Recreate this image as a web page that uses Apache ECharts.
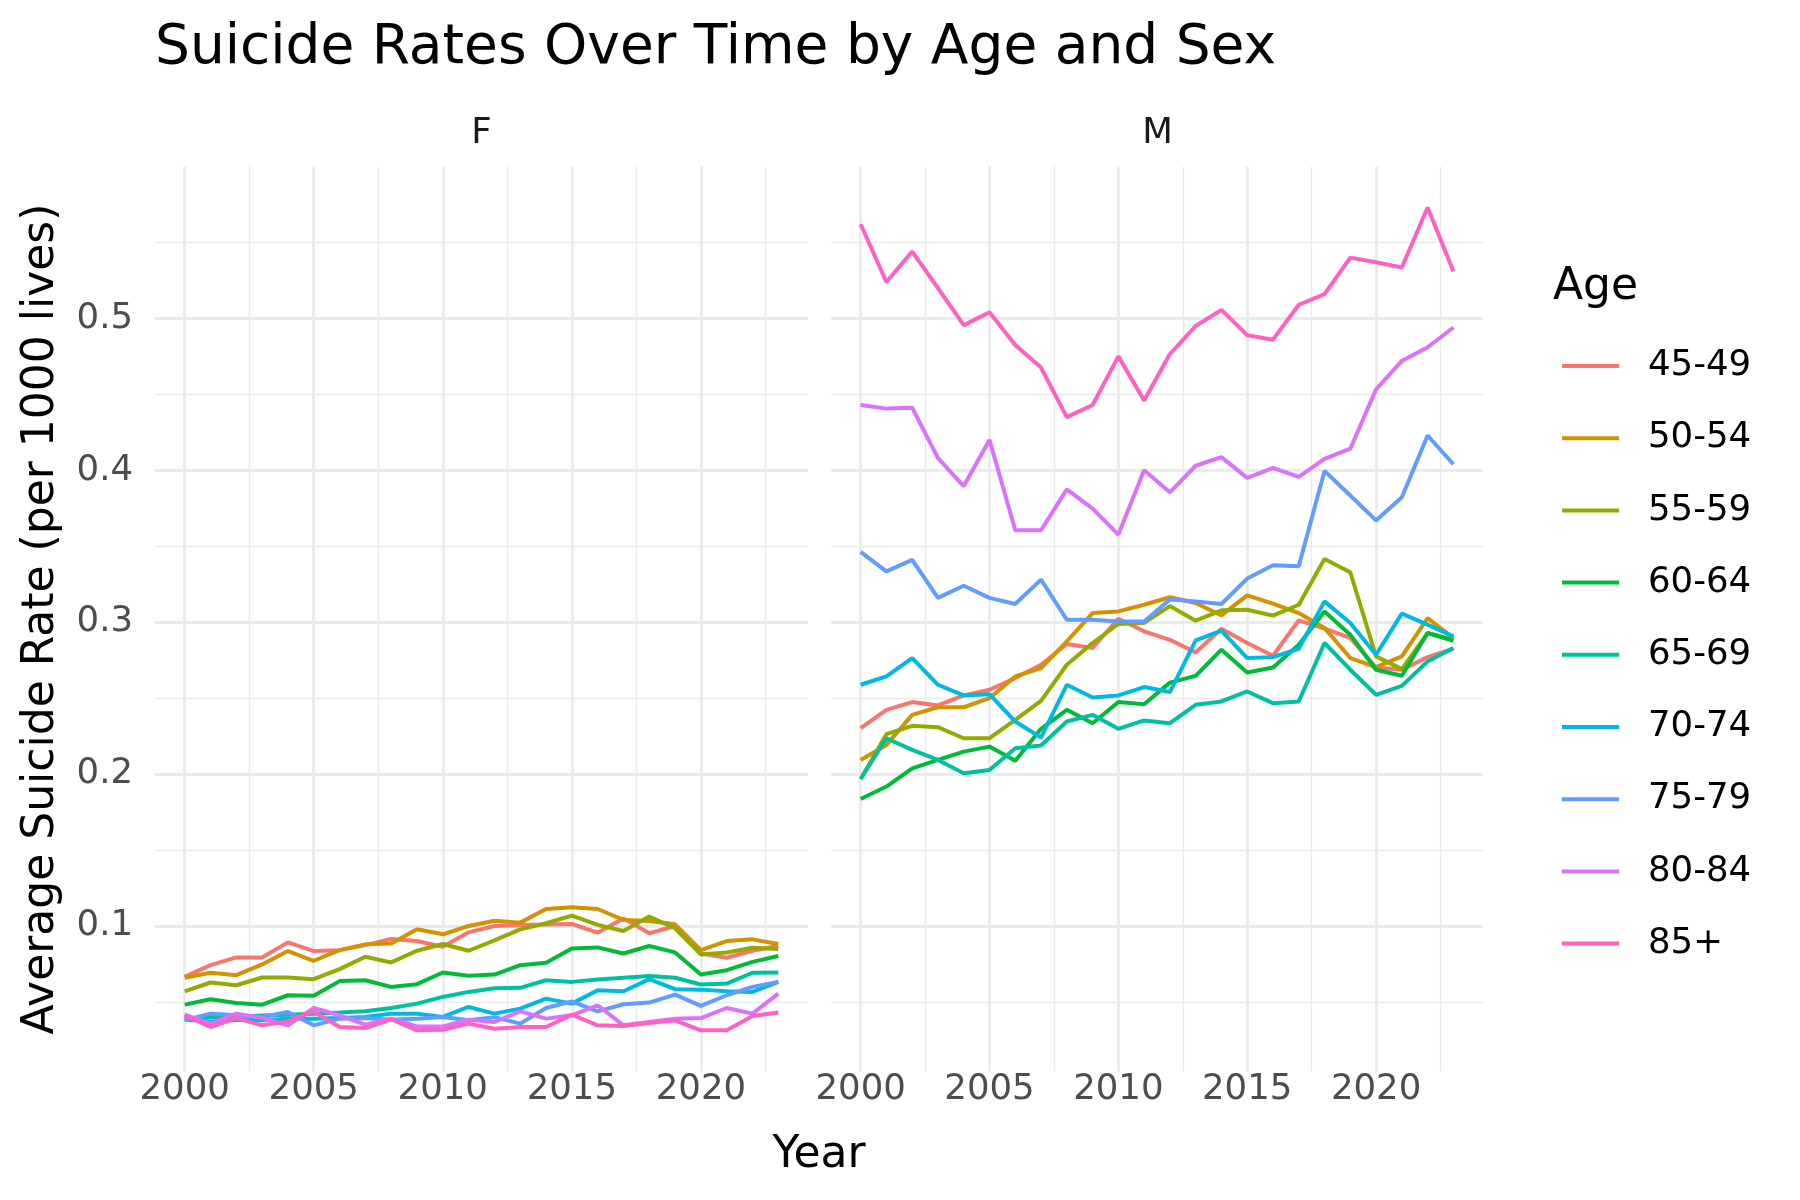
<!DOCTYPE html>
<html><head><meta charset="utf-8">
<script src="https://cdn.jsdelivr.net/npm/echarts@6/dist/echarts.min.js"></script>
<style>html,body{margin:0;padding:0;background:#fff}#c{width:1800px;height:1200px}</style>
</head><body><div id="c"></div>
<script>
const years = [2000,2001,2002,2003,2004,2005,2006,2007,2008,2009,2010,2011,2012,2013,2014,2015,2016,2017,2018,2019,2020,2021,2022,2023];
const ages = ['45-49','50-54','55-59','60-64','65-69','70-74','75-79','80-84','85+'];
const ageColors = ['#F8766D','#D39200','#93AA00','#00BA38','#00C19F','#00B9E3','#619CFF','#DB72FB','#FF61C3'];
const xMajorTicks = [2000,2005,2010,2015,2020];
const xMinorTicks = [2002.5,2007.5,2012.5,2017.5,2022.5];
const yMajorTicks = [0.1,0.2,0.3,0.4,0.5];
const yMinorTicks = [0.05,0.15,0.25,0.35,0.45,0.55];

// Female
const f4549 = [0.0665,0.0742,0.0793,0.0793,0.0892,0.0835,0.0841,0.0874,0.0914,0.0901,0.0863,0.0958,0.1000,0.1007,0.1010,0.1013,0.0956,0.1050,0.0952,0.1000,0.0819,0.0791,0.0837,0.0870];
const f5054 = [0.0659,0.0692,0.0676,0.0747,0.0835,0.0771,0.0841,0.0879,0.0885,0.0978,0.0945,0.1000,0.1035,0.1022,0.1112,0.1123,0.1112,0.1040,0.1033,0.1011,0.0841,0.0901,0.0912,0.0881];
const f5559 = [0.0570,0.0628,0.0610,0.0661,0.0661,0.0650,0.0716,0.0797,0.0760,0.0837,0.0881,0.0837,0.0905,0.0978,0.1018,0.1068,0.1007,0.0967,0.1062,0.0985,0.0813,0.0826,0.0857,0.0848];
const f6064 = [0.0482,0.0518,0.0493,0.0482,0.0544,0.0540,0.0637,0.0643,0.0599,0.0617,0.0694,0.0672,0.0680,0.0742,0.0758,0.0852,0.0859,0.0819,0.0868,0.0826,0.0680,0.0709,0.0764,0.0802];
const f6569 = [0.0390,0.0400,0.0400,0.0410,0.0415,0.0423,0.0430,0.0438,0.0460,0.0489,0.0533,0.0566,0.0590,0.0593,0.0643,0.0632,0.0648,0.0659,0.0670,0.0659,0.0615,0.0621,0.0692,0.0694];
const f7074 = [0.0383,0.0372,0.0383,0.0379,0.0390,0.0390,0.0394,0.0401,0.0423,0.0423,0.0401,0.0467,0.0423,0.0456,0.0522,0.0489,0.0577,0.0570,0.0650,0.0584,0.0581,0.0570,0.0566,0.0632];
const f7579 = [0.0379,0.0423,0.0412,0.0401,0.0434,0.0346,0.0390,0.0394,0.0383,0.0390,0.0401,0.0379,0.0400,0.0357,0.0460,0.0504,0.0438,0.0485,0.0496,0.0548,0.0474,0.0544,0.0599,0.0632];
const f8084 = [0.0416,0.0357,0.0423,0.0394,0.0346,0.0460,0.0412,0.0350,0.0390,0.0339,0.0339,0.0383,0.0368,0.0438,0.0390,0.0412,0.0478,0.0346,0.0368,0.0390,0.0394,0.0460,0.0423,0.0555];
const f85 = [0.0412,0.0335,0.0394,0.0346,0.0372,0.0438,0.0335,0.0328,0.0386,0.0313,0.0317,0.0357,0.0324,0.0335,0.0335,0.0416,0.0346,0.0341,0.0361,0.0379,0.0313,0.0313,0.0407,0.0430];
// Male
const m4549 = [0.2302,0.2423,0.2474,0.2452,0.2518,0.2555,0.2632,0.2720,0.2856,0.2830,0.3023,0.2940,0.2884,0.2801,0.2957,0.2863,0.2779,0.3012,0.2957,0.2896,0.2702,0.2687,0.2770,0.2825];
const m5054 = [0.2093,0.2192,0.2390,0.2440,0.2440,0.2500,0.2643,0.2698,0.2874,0.3060,0.3071,0.3115,0.3164,0.3126,0.3045,0.3177,0.3122,0.3060,0.2962,0.2764,0.2704,0.2775,0.3027,0.2896];
const m5559 = [0.1968,0.2263,0.2318,0.2309,0.2236,0.2236,0.2357,0.2482,0.2720,0.2863,0.2988,0.2995,0.3106,0.3010,0.3078,0.3082,0.3043,0.3115,0.3416,0.3329,0.2775,0.2691,0.2929,0.2885];
const m6064 = [0.1836,0.1918,0.2038,0.2093,0.2148,0.2181,0.2087,0.2298,0.2423,0.2335,0.2474,0.2460,0.2602,0.2647,0.2819,0.2669,0.2702,0.2852,0.3071,0.2918,0.2687,0.2647,0.2929,0.2878];
const m6569 = [0.1968,0.2236,0.2159,0.2093,0.2005,0.2027,0.2170,0.2188,0.2346,0.2390,0.2298,0.2353,0.2335,0.2456,0.2478,0.2544,0.2467,0.2478,0.2863,0.2687,0.2522,0.2581,0.2742,0.2830];
const m7074 = [0.2588,0.2643,0.2764,0.2588,0.2518,0.2526,0.2346,0.2240,0.2588,0.2504,0.2518,0.2573,0.2540,0.2880,0.2944,0.2764,0.2770,0.2825,0.3137,0.2995,0.2786,0.3056,0.2984,0.2907];
const m7579 = [0.3463,0.3335,0.3410,0.3160,0.3240,0.3160,0.3120,0.3280,0.3016,0.3016,0.3005,0.3005,0.3150,0.3137,0.3120,0.3287,0.3375,0.3368,0.3996,0.3834,0.3670,0.3823,0.4229,0.4040];
const m8084 = [0.4430,0.4406,0.4412,0.4080,0.3896,0.4200,0.3605,0.3605,0.3874,0.3748,0.3577,0.4000,0.3855,0.4030,0.4087,0.3950,0.4016,0.3957,0.4075,0.4142,0.4533,0.4720,0.4810,0.4940];
const m85 = [0.5620,0.5240,0.5440,0.5200,0.4955,0.5040,0.4825,0.4676,0.4350,0.4430,0.4750,0.4460,0.4765,0.4950,0.5056,0.4890,0.4860,0.5090,0.5160,0.5400,0.5370,0.5335,0.5730,0.5310];

const femaleSeries = [f4549,f5054,f5559,f6064,f6569,f7074,f7579,f8084,f85];
const maleSeries = [m4549,m5054,m5559,m6064,m6569,m7074,m7579,m8084,m85];

const FONT = 'DejaVu Sans';
const XMIN = 1998.85, XMAX = 2024.15, YMIN = 0.0042, YMAX = 0.6;
const GRID_TOP = 166.5, GRID_H = 905;

function xAxes(g, labels) {
  return [
    { type:'value', gridIndex:g, min:XMIN, max:XMAX,
      axisLine:{show:false}, axisTick:{show:false, customValues:xMajorTicks},
      axisLabel:{show:labels, customValues:xMajorTicks, formatter:v=>String(v), fontSize:35.5, color:'#4D4D4D', fontFamily:FONT, margin:0},
      splitLine:{show:true, lineStyle:{color:'#EBEBEB', width:2.8}} },
    { type:'value', gridIndex:g, min:XMIN, max:XMAX,
      axisLine:{show:false}, axisTick:{show:false, customValues:xMinorTicks},
      axisLabel:{show:false},
      splitLine:{show:true, lineStyle:{color:'#EBEBEB', width:1.4}} }
  ];
}
function yAxes(g, labels) {
  return [
    { type:'value', gridIndex:g, min:YMIN, max:YMAX,
      axisLine:{show:false}, axisTick:{show:false, customValues:yMajorTicks},
      axisLabel:{show:labels, customValues:yMajorTicks, formatter:v=>v.toFixed(1), fontSize:35.5, color:'#4D4D4D', fontFamily:FONT, margin:22},
      splitLine:{show:true, lineStyle:{color:'#EBEBEB', width:2.8}} },
    { type:'value', gridIndex:g, min:YMIN, max:YMAX,
      axisLine:{show:false}, axisTick:{show:false, customValues:yMinorTicks},
      axisLabel:{show:false},
      splitLine:{show:true, lineStyle:{color:'#EBEBEB', width:1.4}} }
  ];
}

const series = [];
[[femaleSeries,0],[maleSeries,2]].forEach(([set, axIdx]) => {
  set.forEach((vals, i) => {
    series.push({
      type:'line', name:ages[i], xAxisIndex:axIdx, yAxisIndex:axIdx,
      data: years.map((y, k) => [y, vals[k]]),
      symbol:'none', showSymbol:false, silent:true,
      lineStyle:{width:4, color:ageColors[i]}, itemStyle:{color:ageColors[i]},
      emphasis:{disabled:true}, z: 3 + i
    });
  });
});

const chart = echarts.init(document.getElementById('c'), null, {renderer:'canvas'});
chart.setOption({
  animation:false,
  backgroundColor:'#ffffff',
  grid:[
    {left:155, top:GRID_TOP, width:653, height:GRID_H},
    {left:831, top:GRID_TOP, width:652, height:GRID_H}
  ],
  xAxis:[...xAxes(0,true), ...xAxes(1,true)],
  yAxis:[...yAxes(0,true), ...yAxes(1,false)],
  legend:{
    orient:'vertical', left:1562, top:346, padding:0,
    itemWidth:57, itemHeight:4, itemGap:32.2, icon:'rect',
    selectedMode:false,
    textStyle:{fontSize:35.5, lineHeight:40, color:'#000', fontFamily:FONT, padding:[0,0,0,24]},
    data:ages
  },
  graphic:[
    {type:'text', x:155, y:49, style:{text:'Suicide Rates Over Time by Age and Sex', fontSize:55, fontFamily:FONT, fill:'#000', align:'left', verticalAlign:'middle'}},
    {type:'text', x:481.5, y:134, style:{text:'F', fontSize:35.5, fontFamily:FONT, fill:'#1A1A1A', align:'center', verticalAlign:'middle'}},
    {type:'text', x:1157.5, y:134, style:{text:'M', fontSize:35.5, fontFamily:FONT, fill:'#1A1A1A', align:'center', verticalAlign:'middle'}},
    {type:'text', x:819, y:1156, style:{text:'Year', fontSize:44, fontFamily:FONT, fill:'#000', align:'center', verticalAlign:'middle'}},
    {type:'text', x:42, y:619, rotation:Math.PI/2, style:{text:'Average Suicide Rate (per 1000 lives)', fontSize:44, fontFamily:FONT, fill:'#000', align:'center', verticalAlign:'middle'}},
    {type:'text', x:1553, y:288, style:{text:'Age', fontSize:44, fontFamily:FONT, fill:'#000', align:'left', verticalAlign:'middle'}}
  ],
  series
});
</script></body></html>
